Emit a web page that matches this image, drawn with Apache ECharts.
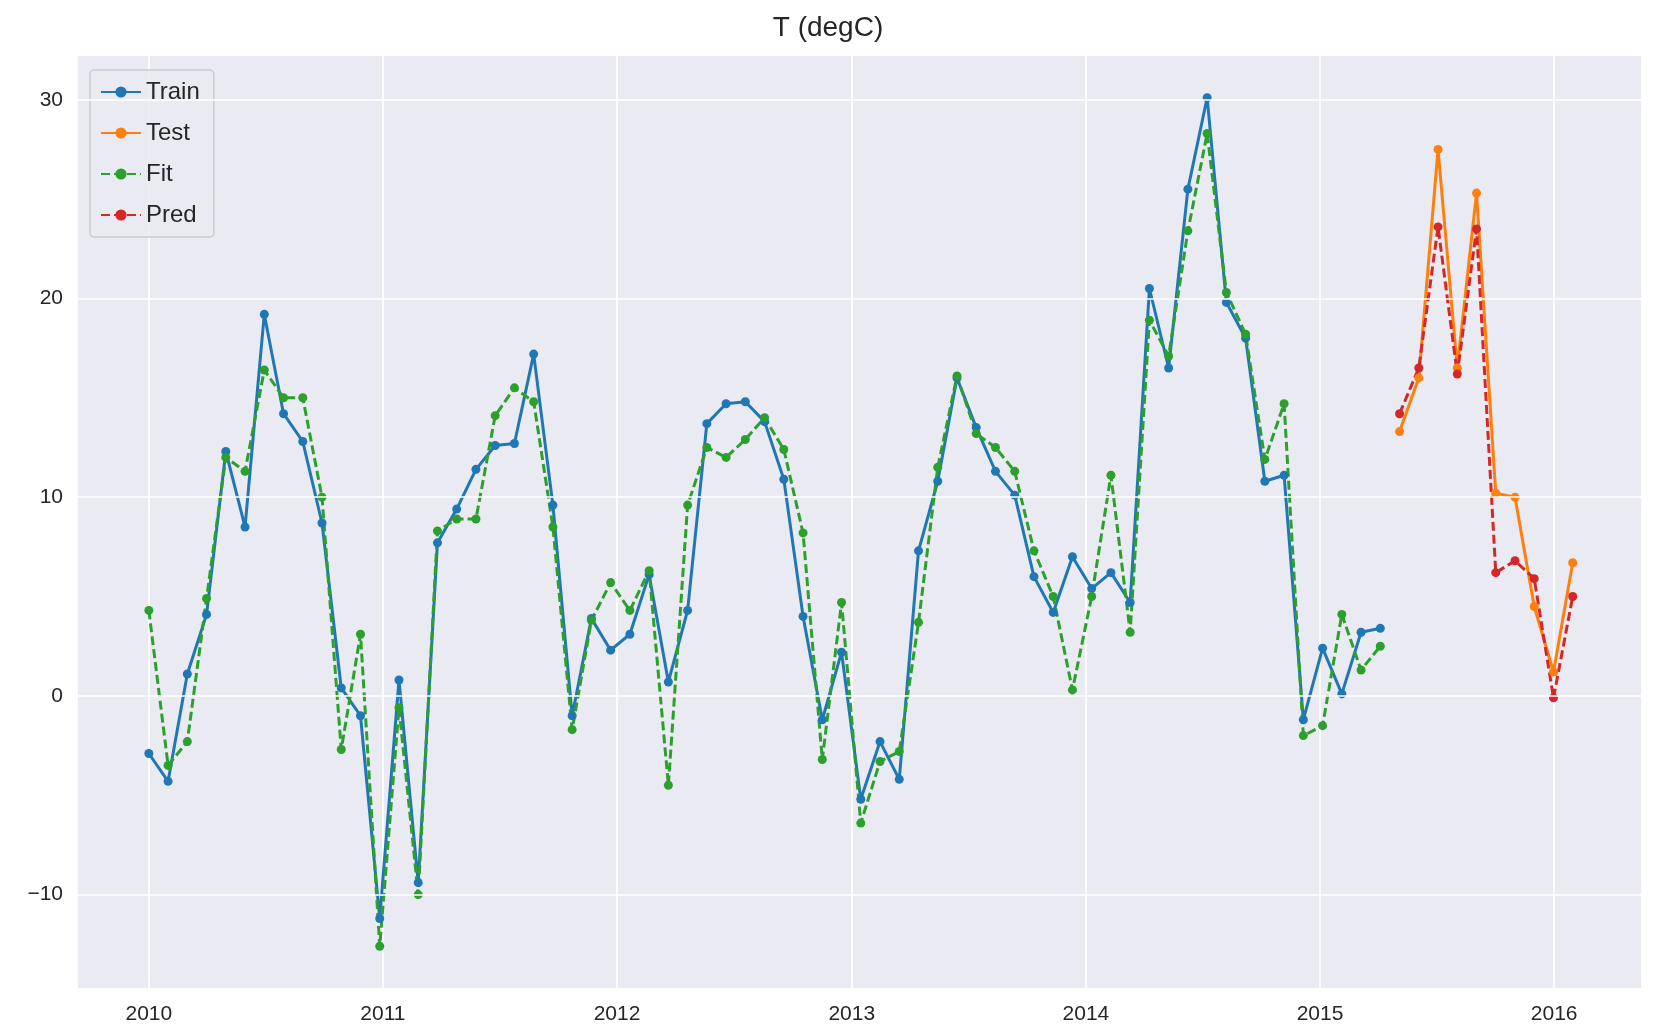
<!DOCTYPE html>
<html><head><meta charset="utf-8">
<script src="https://cdn.jsdelivr.net/npm/echarts@6/dist/echarts.min.js"></script>
<style>html,body{margin:0;padding:0;background:#fff}#c{width:1656px;height:1029px}</style>
</head><body><div id="c"></div>
<script>
// samples every 30 days starting 2010-01-01
var START = Date.UTC(2010, 0, 1), STEP_DAYS = 30;
var trainVals = [-2.9,-4.3,1.1,4.1,12.3,8.5,19.2,14.2,12.8,8.7,0.4,-1.0,-11.2,0.8,-9.4,7.7,9.4,11.4,12.6,12.7,
  17.2,9.6,-1.0,3.9,2.3,3.1,6.1,0.7,4.3,13.7,14.7,14.8,13.8,10.9,4.0,-1.2,2.2,-5.2,-2.3,-4.2,
  7.3,10.8,16.0,13.5,11.3,10.1,6.0,4.2,7.0,5.4,6.2,4.7,20.5,16.5,25.5,30.1,19.8,18.0,10.8,11.1,
  -1.2,2.4,0.1,3.2,3.4];
var fitVals = [4.3,-3.5,-2.3,4.9,12.0,11.3,16.4,15.0,15.0,10.0,-2.7,3.1,-12.6,-0.6,-10.0,8.3,8.9,8.9,14.1,15.5,
  14.8,8.5,-1.7,3.8,5.7,4.3,6.3,-4.5,9.6,12.5,12.0,12.9,14.0,12.4,8.2,-3.2,4.7,-6.4,-3.3,-2.8,
  3.7,11.5,16.1,13.2,12.5,11.3,7.3,5.0,0.3,5.0,11.1,3.2,18.9,17.1,23.4,28.3,20.3,18.2,11.9,14.7,
  -2.0,-1.5,4.1,1.3,2.5];
var testVals = [13.3,16.0,27.5,16.5,25.3,10.2,10.0,4.5,1.2,6.7];
var predVals = [14.2,16.5,23.6,16.2,23.5,6.2,6.8,5.9,-0.1,5.0];
var yTicks = [-10, 0, 10, 20, 30];

function dateAt(i){ return START + i*STEP_DAYS*86400000; }
function pairs(vals, offset){ return vals.map(function(v,i){ return [dateAt(i+offset), v]; }); }

var FONT = "Liberation Sans, Arial, sans-serif";
function ser(name, data, color, dashed){
  return { type:"line", name:name, data:data, symbol:"circle", symbolSize:9, z:3,
    lineStyle:{color:color, width:3, type:dashed?[9,4]:"solid"},
    itemStyle:{color:color}, emphasis:{disabled:true}, animation:false };
}
var ch = echarts.init(document.getElementById("c"));
ch.setOption({
  animation:false,
  title:{ text:"T (degC)", left:"center", top:9,
    textStyle:{fontFamily:FONT, fontSize:28, fontWeight:"normal", color:"#262626"} },
  grid:{ left:77, right:14, top:56, bottom:41, containLabel:false, show:true,
    backgroundColor:"#eaeaf2", borderWidth:0 },
  legend:{ orient:"vertical", left:90, top:70, itemWidth:40, itemHeight:14, itemGap:17,
    padding:[10,14,10,10], backgroundColor:"rgba(234,234,242,0.85)", borderColor:"#cccccc",
    borderWidth:1.5, borderRadius:4,
    textStyle:{fontFamily:FONT, fontSize:24, color:"#262626"},
    data:["Train","Test","Fit","Pred"] },
  xAxis:{ type:"time", min:Date.UTC(2009,8,11), max:Date.UTC(2016,4,17),
    minInterval:365*86400000,
    axisLine:{show:false}, axisTick:{show:false},
    axisLabel:{formatter:"{yyyy}", fontFamily:FONT, fontSize:21, color:"#262626", margin:16,
      showMinLabel:false, showMaxLabel:false},
    splitLine:{show:true, lineStyle:{color:"#ffffff", width:1.7}} },
  yAxis:{ type:"value", min:-14.7, max:32.2,
    axisLine:{show:false}, axisTick:{show:false, customValues:yTicks},
    axisLabel:{fontFamily:FONT, fontSize:21, color:"#262626", margin:14, customValues:yTicks,
      formatter:function(v){ return String(Math.round(v)).replace("-","\u2212"); }},
    splitLine:{show:false} },
  series:[
    { type:"line", data:[], silent:true, z:1,
      markLine:{ silent:true, symbol:"none", label:{show:false}, animation:false,
        lineStyle:{color:"#ffffff", width:1.7, type:"solid"},
        data:yTicks.map(function(v){ return {yAxis:v}; }) } },
    ser("Train", pairs(trainVals,0), "#1f77b4", false),
    ser("Test", pairs(testVals,trainVals.length), "#ff7f0e", false),
    ser("Fit", pairs(fitVals,0), "#2ca02c", true),
    ser("Pred", pairs(predVals,trainVals.length), "#d62728", true)
  ]
});
</script></body></html>
